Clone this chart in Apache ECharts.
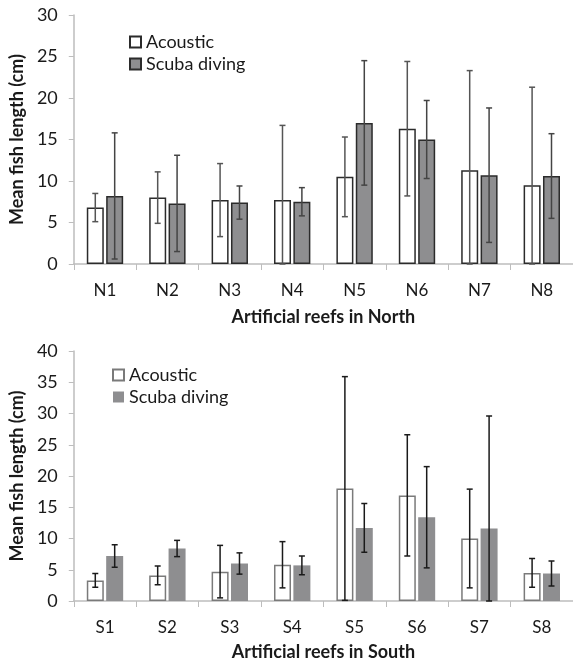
<!DOCTYPE html>
<html>
<head>
<meta charset="utf-8">
<script src="https://cdn.jsdelivr.net/npm/echarts@6/dist/echarts.min.js"></script>
<style>
    html, body { margin: 0; padding: 0; background: #fff; }
    #chart { width: 573px; height: 664px; }
</style>
</head>
<body>
<div id="chart"></div>
<script>
// mean fish length (cm) with +/- error
var northCats = ['N1', 'N2', 'N3', 'N4', 'N5', 'N6', 'N7', 'N8'];
var northAcoustic = [6.8, 8.0, 7.7, 7.7, 10.5, 16.3, 11.3, 9.5];
var northAcousticErr = [1.7, 3.1, 4.4, 9.0, 4.8, 8.1, 12.0, 11.8];
var northScuba = [8.2, 7.3, 7.4, 7.5, 17.0, 15.0, 10.7, 10.6];
var northScubaErr = [7.6, 5.8, 2.0, 1.7, 7.5, 4.7, 8.1, 5.1];

var southCats = ['S1', 'S2', 'S3', 'S4', 'S5', 'S6', 'S7', 'S8'];
var southAcoustic = [3.3, 4.1, 4.7, 5.8, 18.0, 16.9, 10.0, 4.5];
var southAcousticErr = [1.1, 1.5, 4.2, 3.7, 17.9, 9.7, 7.9, 2.3];
var southScuba = [7.2, 8.4, 6.0, 5.7, 11.7, 13.4, 11.6, 4.4];
var southScubaErr = [1.8, 1.3, 1.7, 1.5, 3.9, 8.1, 18.0, 2.0];

var FONT = 'Lato';
var TEXT = '#1a1a1a';
var BAR_W = 17;
var BAR_GAP = 2.4;

function errData(means, errs) {
    return means.map(function (m, i) { return [i, m, errs[i]]; });
}

function errSeries(means, errs, axisIdx, side, color) {
    return {
        type: 'custom',
        xAxisIndex: axisIdx,
        yAxisIndex: axisIdx,
        z: 5,
        silent: true,
        data: errData(means, errs),
        encode: { x: 0, y: 1 },
        renderItem: function (params, api) {
            var i = api.value(0), m = api.value(1), e = api.value(2);
            var off = side * (BAR_W + BAR_GAP) / 2;
            var hi = api.coord([i, m + e]);
            var lo = api.coord([i, Math.max(0, m - e)]);
            var x = hi[0] + off;
            var st = { stroke: color, lineWidth: 1.5 };
            return {
                type: 'group',
                children: [
                    { type: 'line', shape: { x1: x, y1: hi[1], x2: x, y2: lo[1] }, style: st },
                    { type: 'line', shape: { x1: x - 3, y1: hi[1], x2: x + 3, y2: hi[1] }, style: st },
                    { type: 'line', shape: { x1: x - 3, y1: lo[1], x2: x + 3, y2: lo[1] }, style: st }
                ]
            };
        }
    };
}

function xAxisOf(idx, cats, name, gap) {
    return {
        type: 'category',
        gridIndex: idx,
        data: cats,
        axisLine: { lineStyle: { color: '#bdbdbd', width: 1.5 } },
        axisTick: { show: true, length: 6, lineStyle: { color: '#bdbdbd' } },
        axisLabel: { fontFamily: FONT, fontSize: 17, color: TEXT, margin: 18 },
        name: name,
        nameLocation: 'middle',
        nameGap: gap,
        nameTextStyle: { fontFamily: FONT, fontSize: 18, fontWeight: 'bold', color: TEXT }
    };
}

function yAxisOf(idx, max) {
    return {
        type: 'value',
        gridIndex: idx,
        min: 0,
        max: max,
        interval: 5,
        splitLine: { show: false },
        axisLine: { show: true, lineStyle: { color: '#bdbdbd', width: 1.5 } },
        axisTick: { show: true, length: 5, lineStyle: { color: '#bdbdbd' } },
        axisLabel: { fontFamily: FONT, fontSize: 18, color: TEXT, margin: 16 },
        name: 'Mean fish length (cm)',
        nameLocation: 'middle',
        nameGap: 42,
        nameTextStyle: { fontFamily: FONT, fontSize: 18, fontWeight: 'bold', color: TEXT }
    };
}

function legendOf(names, left, top) {
    return {
        data: names,
        orient: 'vertical',
        left: left, top: top,
        icon: 'rect', itemWidth: 11, itemHeight: 11, itemGap: 4,
        textStyle: { fontFamily: FONT, fontSize: 18, color: TEXT },
        selectedMode: false
    };
}

var chart = echarts.init(document.getElementById('chart'));
var option = {
    animation: false,
    grid: [
        { left: 70, top: 15, width: 503, height: 249 },
        { left: 70, top: 351, width: 503, height: 250 }
    ],
    legend: [
        legendOf(['Acoustic', 'Scuba diving'], 124, 28),
        legendOf(['Acoustic ', 'Scuba diving '], 107, 361)
    ],
    xAxis: [
        xAxisOf(0, northCats, 'Artificial reefs in North', 44),
        xAxisOf(1, southCats, 'Artificial reefs in South', 42)
    ],
    yAxis: [yAxisOf(0, 30), yAxisOf(1, 40)],
    series: [
        {
            name: 'Acoustic', type: 'bar', xAxisIndex: 0, yAxisIndex: 0,
            data: northAcoustic, barWidth: BAR_W, barGap: '14%',
            itemStyle: { color: '#fff', borderColor: '#2b2b2b', borderWidth: 1.5 }
        },
        {
            name: 'Scuba diving', type: 'bar', xAxisIndex: 0, yAxisIndex: 0,
            data: northScuba, barWidth: BAR_W, barGap: '14%',
            itemStyle: { color: '#8e8e90', borderColor: '#2b2b2b', borderWidth: 1.5 }
        },
        {
            name: 'Acoustic ', type: 'bar', xAxisIndex: 1, yAxisIndex: 1,
            data: southAcoustic, barWidth: BAR_W, barGap: '14%',
            itemStyle: { color: '#fff', borderColor: '#7a7a7a', borderWidth: 1.5 }
        },
        {
            name: 'Scuba diving ', type: 'bar', xAxisIndex: 1, yAxisIndex: 1,
            data: southScuba, barWidth: BAR_W, barGap: '14%',
            itemStyle: { color: '#8e8e90' }
        },
        errSeries(northAcoustic, northAcousticErr, 0, -1, '#555'),
        errSeries(northScuba, northScubaErr, 0, 1, '#444'),
        errSeries(southAcoustic, southAcousticErr, 1, -1, '#1a1a1a'),
        errSeries(southScuba, southScubaErr, 1, 1, '#1a1a1a')
    ]
};
chart.setOption(option);
</script>
</body>
</html>
